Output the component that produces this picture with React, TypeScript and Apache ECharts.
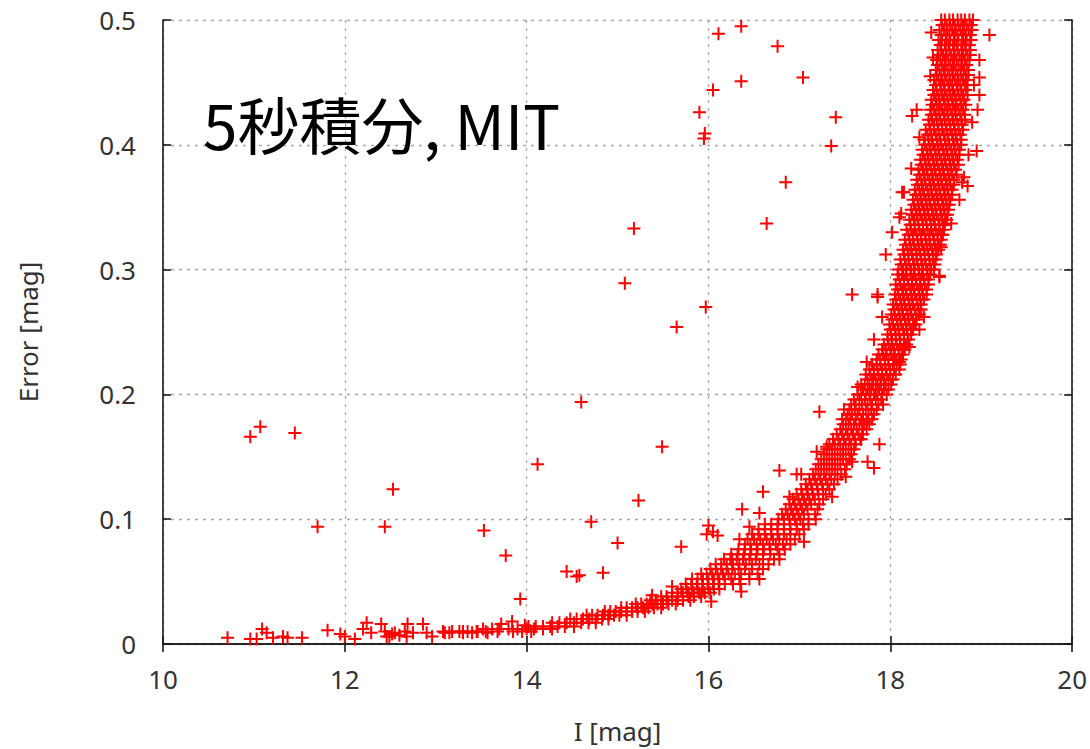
import React, { useEffect, useRef } from "react";
import * as echarts from "echarts";

// ---- Axis ticks ----
const xTicks = [10, 12, 14, 16, 18, 20];
const yTickLabels = ["0", "0.1", "0.2", "0.3", "0.4", "0.5"];

// ---- Dense band: rows of [Error, list of I values] ----
const bandRows: [number, number[]][] = [
  [0.500, [18.56, 18.60, 18.65, 18.69, 18.74, 18.78, 18.82, 18.87, 18.91]],
  [0.496, [18.57, 18.62, 18.66, 18.71, 18.75, 18.80, 18.84, 18.89]],
  [0.492, [18.54, 18.59, 18.63, 18.68, 18.72, 18.77, 18.81, 18.86, 18.90]],
  [0.488, [18.56, 18.61, 18.65, 18.70, 18.74, 18.79, 18.83, 18.88]],
  [0.484, [18.53, 18.57, 18.62, 18.66, 18.71, 18.75, 18.80, 18.84, 18.89]],
  [0.480, [18.55, 18.60, 18.64, 18.69, 18.73, 18.78, 18.82, 18.87]],
  [0.476, [18.52, 18.56, 18.61, 18.65, 18.70, 18.74, 18.79, 18.83, 18.88]],
  [0.472, [18.53, 18.58, 18.62, 18.67, 18.71, 18.76, 18.80, 18.85, 18.88]],
  [0.468, [18.51, 18.55, 18.60, 18.64, 18.69, 18.73, 18.78, 18.82, 18.87]],
  [0.464, [18.52, 18.57, 18.61, 18.66, 18.70, 18.75, 18.79, 18.84]],
  [0.460, [18.50, 18.54, 18.59, 18.63, 18.68, 18.72, 18.77, 18.81, 18.86]],
  [0.456, [18.51, 18.56, 18.60, 18.65, 18.69, 18.74, 18.78, 18.83, 18.86]],
  [0.452, [18.48, 18.53, 18.57, 18.62, 18.66, 18.71, 18.75, 18.80, 18.84]],
  [0.448, [18.50, 18.55, 18.59, 18.64, 18.68, 18.73, 18.77, 18.82, 18.85]],
  [0.444, [18.47, 18.51, 18.56, 18.60, 18.65, 18.69, 18.74, 18.78, 18.83]],
  [0.440, [18.48, 18.53, 18.57, 18.62, 18.66, 18.71, 18.75, 18.80, 18.85]],
  [0.436, [18.45, 18.50, 18.54, 18.59, 18.63, 18.68, 18.72, 18.77, 18.81]],
  [0.432, [18.46, 18.51, 18.55, 18.60, 18.64, 18.69, 18.73, 18.78, 18.83]],
  [0.428, [18.44, 18.48, 18.53, 18.57, 18.62, 18.66, 18.71, 18.75, 18.80]],
  [0.424, [18.45, 18.50, 18.54, 18.59, 18.63, 18.68, 18.72, 18.77, 18.82]],
  [0.420, [18.42, 18.46, 18.51, 18.55, 18.60, 18.64, 18.69, 18.73, 18.78, 18.82]],
  [0.416, [18.43, 18.48, 18.52, 18.57, 18.61, 18.66, 18.70, 18.75, 18.79]],
  [0.412, [18.39, 18.44, 18.48, 18.53, 18.57, 18.62, 18.66, 18.71, 18.75, 18.80]],
  [0.408, [18.41, 18.45, 18.50, 18.54, 18.59, 18.63, 18.68, 18.72, 18.77]],
  [0.404, [18.37, 18.42, 18.46, 18.51, 18.55, 18.60, 18.64, 18.69, 18.73, 18.78]],
  [0.400, [18.38, 18.43, 18.47, 18.52, 18.56, 18.61, 18.65, 18.70, 18.74, 18.78]],
  [0.396, [18.35, 18.40, 18.44, 18.49, 18.53, 18.58, 18.62, 18.67, 18.71, 18.76]],
  [0.392, [18.36, 18.41, 18.45, 18.50, 18.54, 18.59, 18.63, 18.68, 18.72, 18.76]],
  [0.388, [18.33, 18.38, 18.42, 18.47, 18.51, 18.56, 18.60, 18.65, 18.69, 18.74]],
  [0.384, [18.34, 18.39, 18.43, 18.48, 18.52, 18.57, 18.61, 18.66, 18.70, 18.75]],
  [0.380, [18.31, 18.36, 18.40, 18.45, 18.49, 18.54, 18.58, 18.63, 18.67, 18.72]],
  [0.376, [18.32, 18.37, 18.41, 18.46, 18.50, 18.55, 18.59, 18.64, 18.68, 18.73]],
  [0.372, [18.29, 18.34, 18.38, 18.43, 18.47, 18.52, 18.56, 18.61, 18.65, 18.70]],
  [0.368, [18.30, 18.35, 18.39, 18.44, 18.48, 18.53, 18.57, 18.62, 18.66, 18.70]],
  [0.364, [18.27, 18.32, 18.36, 18.41, 18.45, 18.50, 18.54, 18.59, 18.63, 18.68]],
  [0.360, [18.28, 18.33, 18.37, 18.42, 18.46, 18.51, 18.55, 18.60, 18.64, 18.68]],
  [0.356, [18.25, 18.30, 18.34, 18.39, 18.43, 18.48, 18.52, 18.57, 18.61, 18.66]],
  [0.352, [18.26, 18.31, 18.35, 18.40, 18.44, 18.49, 18.53, 18.58, 18.62, 18.65]],
  [0.348, [18.23, 18.28, 18.32, 18.37, 18.41, 18.46, 18.50, 18.55, 18.59, 18.64]],
  [0.344, [18.24, 18.29, 18.33, 18.38, 18.42, 18.47, 18.51, 18.56, 18.60, 18.63]],
  [0.340, [18.21, 18.26, 18.30, 18.35, 18.39, 18.44, 18.48, 18.53, 18.57, 18.62]],
  [0.336, [18.22, 18.27, 18.31, 18.36, 18.40, 18.45, 18.49, 18.54, 18.58, 18.60]],
  [0.332, [18.18, 18.23, 18.27, 18.32, 18.36, 18.41, 18.45, 18.50, 18.54, 18.59]],
  [0.328, [18.20, 18.25, 18.29, 18.34, 18.38, 18.43, 18.47, 18.52, 18.56, 18.58]],
  [0.324, [18.16, 18.21, 18.25, 18.30, 18.34, 18.39, 18.43, 18.48, 18.52, 18.56]],
  [0.320, [18.17, 18.22, 18.26, 18.31, 18.35, 18.40, 18.44, 18.49, 18.53, 18.55]],
  [0.316, [18.14, 18.19, 18.23, 18.28, 18.32, 18.37, 18.41, 18.46, 18.50, 18.53]],
  [0.312, [18.15, 18.20, 18.24, 18.29, 18.33, 18.38, 18.42, 18.47, 18.51]],
  [0.308, [18.11, 18.16, 18.20, 18.25, 18.29, 18.34, 18.38, 18.43, 18.47, 18.50]],
  [0.304, [18.12, 18.17, 18.21, 18.26, 18.30, 18.35, 18.39, 18.44, 18.49]],
  [0.300, [18.09, 18.14, 18.18, 18.23, 18.27, 18.32, 18.36, 18.41, 18.45, 18.48]],
  [0.296, [18.08, 18.13, 18.17, 18.22, 18.26, 18.31, 18.35, 18.40, 18.44]],
  [0.292, [18.10, 18.15, 18.19, 18.24, 18.28, 18.33, 18.37, 18.42]],
  [0.288, [18.06, 18.11, 18.15, 18.20, 18.24, 18.29, 18.33, 18.38, 18.42]],
  [0.284, [18.08, 18.13, 18.17, 18.22, 18.26, 18.31, 18.35, 18.40]],
  [0.280, [18.05, 18.09, 18.14, 18.18, 18.23, 18.27, 18.32, 18.36, 18.40]],
  [0.276, [18.06, 18.11, 18.15, 18.20, 18.24, 18.29, 18.33, 18.37]],
  [0.272, [18.03, 18.07, 18.12, 18.16, 18.21, 18.25, 18.30, 18.34]],
  [0.268, [18.04, 18.09, 18.13, 18.18, 18.22, 18.27, 18.31, 18.34]],
  [0.264, [18.01, 18.05, 18.10, 18.14, 18.19, 18.23, 18.28, 18.32]],
  [0.260, [18.02, 18.07, 18.11, 18.16, 18.20, 18.25, 18.29]],
  [0.256, [17.99, 18.03, 18.08, 18.12, 18.17, 18.21, 18.26, 18.28]],
  [0.252, [18.00, 18.05, 18.09, 18.14, 18.18, 18.23, 18.25]],
  [0.248, [17.97, 18.01, 18.06, 18.10, 18.15, 18.19, 18.23]],
  [0.244, [17.97, 18.02, 18.06, 18.11, 18.15, 18.20]],
  [0.240, [17.93, 17.98, 18.02, 18.07, 18.11, 18.16, 18.18]],
  [0.236, [17.91, 17.95, 18.00, 18.04, 18.09, 18.13, 18.16]],
  [0.232, [17.87, 17.92, 17.96, 18.01, 18.05, 18.10, 18.14]],
  [0.228, [17.85, 17.89, 17.94, 17.98, 18.03, 18.07, 18.12]],
  [0.224, [17.80, 17.85, 17.89, 17.94, 17.98, 18.03, 18.07, 18.11]],
  [0.220, [17.77, 17.82, 17.86, 17.91, 17.95, 18.00, 18.04, 18.10]],
  [0.216, [17.73, 17.78, 17.82, 17.87, 17.91, 17.96, 18.00, 18.06]],
  [0.212, [17.75, 17.80, 17.84, 17.89, 17.93, 17.98, 18.03]],
  [0.208, [17.68, 17.72, 17.77, 17.81, 17.86, 17.90, 17.95, 18.01]],
  [0.204, [17.70, 17.75, 17.79, 17.84, 17.88, 17.93, 17.98]],
  [0.200, [17.64, 17.68, 17.73, 17.77, 17.82, 17.86, 17.91, 17.96]],
  [0.196, [17.60, 17.66, 17.72, 17.78, 17.84, 17.90]],
  [0.192, [17.57, 17.62, 17.69, 17.75, 17.80, 17.87, 17.92]],
  [0.188, [17.55, 17.61, 17.66, 17.73, 17.79, 17.85]],
  [0.184, [17.53, 17.58, 17.64, 17.70, 17.76, 17.82]],
  [0.180, [17.51, 17.56, 17.62, 17.68, 17.74, 17.80]],
  [0.176, [17.48, 17.54, 17.60, 17.66, 17.71, 17.77]],
  [0.172, [17.45, 17.51, 17.57, 17.63, 17.69, 17.74]],
  [0.168, [17.41, 17.47, 17.53, 17.59, 17.65, 17.70]],
  [0.164, [17.37, 17.43, 17.49, 17.55, 17.61, 17.67]],
  [0.160, [17.33, 17.39, 17.45, 17.51, 17.57, 17.62]],
  [0.156, [17.30, 17.36, 17.42, 17.48, 17.54, 17.60]],
  [0.152, [17.27, 17.33, 17.39, 17.45, 17.51, 17.57]],
  [0.148, [17.24, 17.30, 17.36, 17.42, 17.48, 17.55]],
  [0.144, [17.21, 17.27, 17.33, 17.39, 17.45, 17.52]],
  [0.140, [17.18, 17.24, 17.30, 17.36, 17.42, 17.50]],
  [0.136, [17.15, 17.21, 17.27, 17.33, 17.39, 17.46]],
  [0.132, [17.11, 17.17, 17.23, 17.29, 17.35, 17.42]],
  [0.128, [17.07, 17.13, 17.19, 17.25, 17.31, 17.38]],
  [0.124, [17.02, 17.08, 17.14, 17.20, 17.26, 17.33]],
  [0.120, [16.97, 17.03, 17.09, 17.15, 17.21, 17.29]],
  [0.116, [16.93, 16.99, 17.05, 17.11, 17.17, 17.26]],
  [0.112, [16.89, 16.95, 17.01, 17.07, 17.13, 17.22]],
  [0.108, [16.85, 16.91, 16.97, 17.03, 17.09, 17.20]],
  [0.104, [16.81, 16.87, 16.93, 16.99, 17.05, 17.17]],
  [0.100, [16.77, 16.83, 16.89, 16.95, 17.01, 17.10, 17.18]],
  [0.096, [16.62, 16.69, 16.76, 16.83, 16.90, 16.97, 17.04, 17.10]],
  [0.092, [16.55, 16.62, 16.69, 16.76, 16.83, 16.90, 16.97, 17.05]],
  [0.088, [16.48, 16.55, 16.62, 16.69, 16.76, 16.83, 16.90, 17.00]],
  [0.084, [16.43, 16.50, 16.57, 16.64, 16.71, 16.78, 16.86, 16.95]],
  [0.080, [16.40, 16.46, 16.53, 16.60, 16.67, 16.74, 16.82, 16.90]],
  [0.076, [16.33, 16.40, 16.47, 16.54, 16.61, 16.68, 16.76, 16.84]],
  [0.072, [16.25, 16.32, 16.39, 16.46, 16.53, 16.60, 16.68, 16.78]],
  [0.068, [16.17, 16.24, 16.31, 16.38, 16.45, 16.52, 16.60, 16.72]],
  [0.064, [16.08, 16.14, 16.20, 16.27, 16.34, 16.41, 16.48, 16.56, 16.66]],
  [0.060, [16.02, 16.08, 16.14, 16.20, 16.26, 16.33, 16.40, 16.48, 16.60]],
  [0.056, [15.92, 15.98, 16.04, 16.10, 16.16, 16.22, 16.29, 16.36, 16.45, 16.54]],
  [0.052, [15.82, 15.88, 15.94, 16.00, 16.06, 16.12, 16.18, 16.25, 16.34, 16.45]],
  [0.048, [15.75, 15.81, 15.87, 15.93, 15.99, 16.05, 16.11, 16.18, 16.27, 16.35]],
  [0.044, [15.70, 15.76, 15.82, 15.88, 15.94, 16.00, 16.06, 16.12]],
  [0.041, [15.60, 15.66, 15.72, 15.78, 15.84, 15.90, 15.96, 16.02]],
  [0.038, [15.48, 15.54, 15.60, 15.66, 15.72, 15.78, 15.84, 15.92]],
  [0.035, [15.36, 15.42, 15.48, 15.54, 15.60, 15.66, 15.72, 15.80]],
  [0.032, [15.20, 15.26, 15.32, 15.38, 15.44, 15.50, 15.56, 15.64]],
  [0.029, [15.04, 15.10, 15.16, 15.22, 15.28, 15.34, 15.40, 15.48]],
  [0.026, [14.86, 14.92, 14.98, 15.04, 15.10, 15.16, 15.22, 15.30]],
  [0.023, [14.66, 14.72, 14.78, 14.84, 14.90, 14.96, 15.02, 15.10]],
  [0.020, [14.48, 14.55, 14.62, 14.69, 14.76, 14.83, 14.90]],
  [0.017, [14.28, 14.36, 14.44, 14.52, 14.60, 14.68, 14.76]],
  [0.014, [14.02, 14.10, 14.18, 14.26, 14.34, 14.42, 14.52]],
  [0.012, [13.62, 13.70, 13.80, 13.90, 14.00, 14.08, 14.18, 14.28]],
  [0.010, [13.08, 13.18, 13.30, 13.45, 13.55, 13.68, 13.85, 13.95, 14.05]],
];

// ---- Stars scattered along the band edges ----
const edgeI = [17.49, 17.47, 17.19, 17.30, 17.09, 16.89, 16.45, 16.34, 16.26, 17.74, 17.68, 17.58, 17.51, 17.36, 17.05, 16.78, 16.56, 16.36, 16.03, 18.13, 18.10, 17.86, 17.91, 17.82, 17.74, 17.64, 18.79, 18.56, 18.54, 18.37, 18.32, 18.21, 18.10, 18.02, 18.47, 18.44, 18.90, 18.92, 18.86];
const edgeErr = [0.188, 0.180, 0.154, 0.158, 0.124, 0.118, 0.094, 0.084, 0.068, 0.178, 0.164, 0.146, 0.134, 0.118, 0.082, 0.068, 0.052, 0.042, 0.034, 0.362, 0.342, 0.278, 0.262, 0.244, 0.226, 0.206, 0.370, 0.318, 0.294, 0.262, 0.252, 0.238, 0.226, 0.330, 0.470, 0.455, 0.418, 0.448, 0.392];

// ---- Faint tail at the bright end ----
const tailI = [10.71, 10.96, 11.03, 11.09, 11.14, 11.21, 11.32, 11.37, 11.53, 11.81, 11.95, 12.00, 12.11, 12.20, 12.24, 12.29, 12.40, 12.44, 12.46, 12.49, 12.52, 12.55, 12.60, 12.66, 12.69, 12.68, 12.75, 12.86, 12.90, 12.96, 13.10, 13.15, 13.26, 13.30, 13.35, 13.40, 13.46, 13.52, 13.57, 13.72, 13.84, 13.98];
const tailErr = [0.005, 0.004, 0.004, 0.012, 0.009, 0.005, 0.006, 0.005, 0.005, 0.011, 0.008, 0.006, 0.004, 0.012, 0.017, 0.009, 0.016, 0.010, 0.006, 0.006, 0.008, 0.009, 0.007, 0.010, 0.016, 0.006, 0.009, 0.016, 0.009, 0.006, 0.009, 0.009, 0.010, 0.009, 0.010, 0.009, 0.010, 0.012, 0.009, 0.016, 0.018, 0.015];

// ---- Outliers ----
const outI = [10.96, 11.07, 11.45, 11.70, 12.44, 12.53, 13.53, 13.77, 13.93, 14.12, 14.44, 14.55, 14.58, 14.60, 14.71, 14.84, 15.00, 15.08, 15.18, 15.23, 15.38, 15.49, 15.60, 15.65, 15.70, 15.90, 15.95, 15.96, 15.97, 15.98, 16.00, 16.05, 16.10, 16.05, 16.11, 16.36, 16.36, 16.37, 16.56, 16.60, 16.64, 16.76, 16.78, 16.85, 16.97, 17.02, 17.04, 17.22, 17.35, 17.40, 17.58, 17.75, 17.82, 17.88, 17.86, 17.95, 18.12, 18.15, 18.23, 18.24, 18.29, 18.32, 18.45, 18.54, 18.67, 18.76, 18.81, 18.85, 18.95, 18.96, 18.98, 18.98, 18.98, 19.09];
const outErr = [0.166, 0.174, 0.169, 0.094, 0.094, 0.124, 0.091, 0.071, 0.036, 0.144, 0.058, 0.054, 0.055, 0.194, 0.098, 0.057, 0.081, 0.289, 0.333, 0.115, 0.039, 0.158, 0.046, 0.254, 0.078, 0.426, 0.405, 0.409, 0.270, 0.088, 0.095, 0.090, 0.087, 0.444, 0.489, 0.495, 0.451, 0.108, 0.105, 0.122, 0.337, 0.479, 0.139, 0.370, 0.136, 0.136, 0.454, 0.186, 0.399, 0.422, 0.280, 0.146, 0.141, 0.160, 0.280, 0.312, 0.345, 0.362, 0.381, 0.423, 0.428, 0.406, 0.490, 0.295, 0.337, 0.356, 0.374, 0.367, 0.395, 0.428, 0.440, 0.454, 0.468, 0.488];

const annotation = "5秒積分, MIT";

export default function App() {
  const ref = useRef<HTMLDivElement>(null);
  useEffect(() => {
    if (!ref.current) return;
    const chart = echarts.init(ref.current, null, { renderer: "svg" });
    const data: number[][] = [];
    bandRows.forEach(([e, xs]) => xs.forEach((x) => data.push([x, e])));
    edgeI.forEach((x, i) => data.push([x, edgeErr[i]]));
    tailI.forEach((x, i) => data.push([x, tailErr[i]]));
    outI.forEach((x, i) => data.push([x, outErr[i]]));

    const font = "'Noto Sans', 'Open Sans', sans-serif";
    const axisLine = { show: true, lineStyle: { color: "#1a1a1a", width: 1.6 } };
    const tick = { show: true, inside: true, length: 8, lineStyle: { color: "#1a1a1a", width: 1.6 } };
    const grid = { show: true, lineStyle: { color: "#a8a8a8", width: 1.3, type: [3, 5] as number[] } };

    chart.setOption({
      animation: false,
      backgroundColor: "#ffffff",
      grid: { left: 163, right: 17, top: 20, bottom: 104 },
      xAxis: [
        {
          type: "value", min: xTicks[0], max: xTicks[xTicks.length - 1], interval: 2,
          position: "bottom",
          axisLine, axisTick: tick, splitLine: grid,
          axisLabel: { fontSize: 26, color: "#333", fontFamily: font, margin: 22 },
          name: "I [mag]", nameLocation: "middle", nameGap: 74,
          nameTextStyle: { fontSize: 26, color: "#333", fontFamily: font },
        },
        {
          type: "value", min: xTicks[0], max: xTicks[xTicks.length - 1], interval: 2,
          position: "top",
          axisLine, axisTick: tick, splitLine: { show: false }, axisLabel: { show: false },
        },
      ],
      yAxis: [
        {
          type: "value", min: 0, max: 0.5, interval: 0.1,
          position: "left",
          axisLine, axisTick: tick, splitLine: grid,
          axisLabel: {
            fontSize: 26, color: "#333", fontFamily: font, margin: 27,
            formatter: (v: number) => yTickLabels[Math.round(v * 10)],
          },
          name: "Error [mag]", nameLocation: "middle", nameGap: 122, nameRotate: 90,
          nameTextStyle: { fontSize: 26, color: "#333", fontFamily: font },
        },
        {
          type: "value", min: 0, max: 0.5, interval: 0.1,
          position: "right",
          axisLine, axisTick: tick, splitLine: { show: false }, axisLabel: { show: false },
        },
      ],
      graphic: [
        {
          type: "text", left: 203, top: 92,
          style: {
            text: annotation, fill: "#000", fontSize: 62,
            fontFamily: "'Noto Sans CJK JP', 'Noto Sans', sans-serif",
          },
          z: 10,
        },
      ],
      series: [
        {
          type: "scatter",
          data,
          symbol: "path://M0,6L12,6M6,0L6,12",
          symbolSize: 13,
          itemStyle: { color: "rgba(0,0,0,0)", borderColor: "#ff0000", borderWidth: 2, opacity: 1 },
          emphasis: { disabled: true },
          clip: false,
        },
      ],
    });
    return () => chart.dispose();
  }, []);
  return (
    <div
      ref={ref}
      style={{ position: "absolute", left: 0, top: 0, width: 1090, height: 749, background: "#fff" }}
    />
  );
}
